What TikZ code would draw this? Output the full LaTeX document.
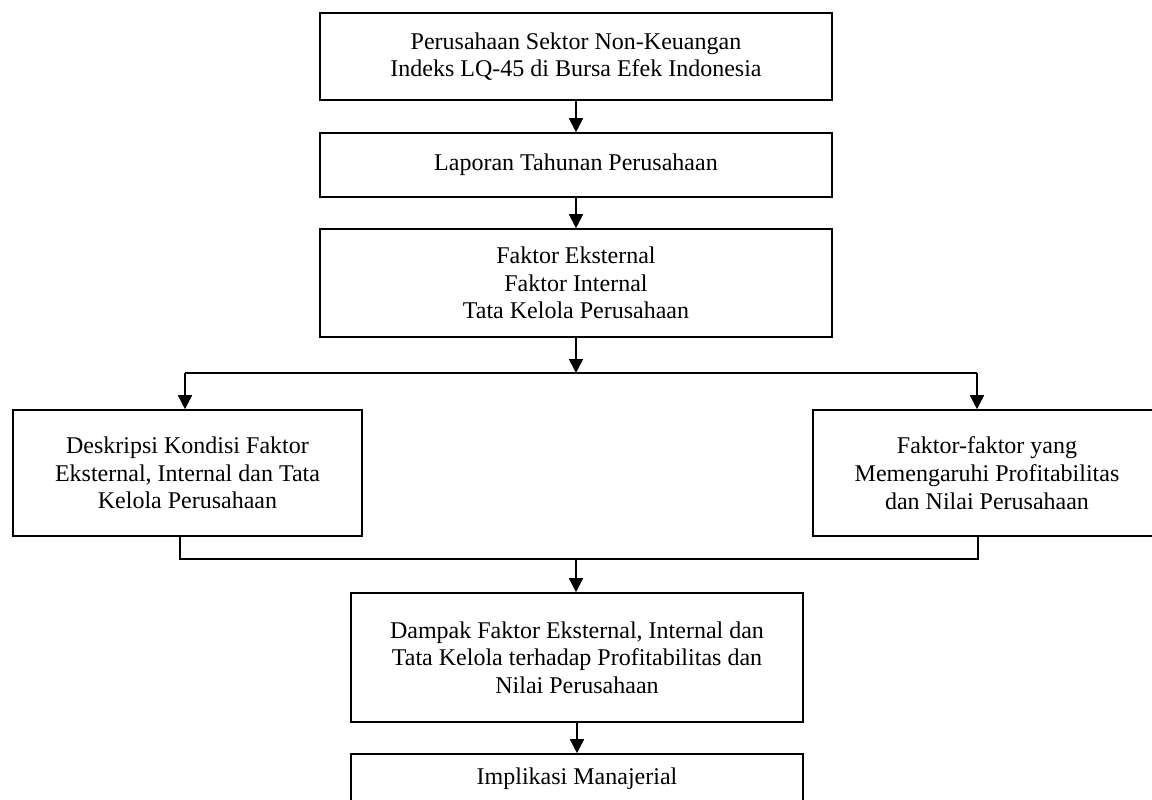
\documentclass[tikz,border=0pt]{standalone}
\usepackage{fontspec}
\setmainfont{Liberation Serif}
\usetikzlibrary{arrows.meta}
\begin{document}
\begin{tikzpicture}[x=1pt,y=-1pt,
  box/.style={draw=black, line width=1.6pt, align=center, inner sep=2pt,
    font=\fontsize{24}{27.7}\selectfont, text=black},
  line/.style={draw=black, line width=1.6pt},
  arr/.style={line, -{Triangle[width=14pt,length=14pt]}}]
\useasboundingbox (0,0) rectangle (1152,800);
\clip (0,0) rectangle (1152,800);
\fill[white] (0,0) rectangle (1152,800);
\node[box, minimum width=512pt, minimum height=87pt] (b1) at (576,56.5)
  {Perusahaan Sektor Non-Keuangan\\Indeks LQ-45 di Bursa Efek Indonesia};
\node[box, minimum width=512pt, minimum height=64pt] (b2) at (576,165)
  {Laporan Tahunan Perusahaan};
\node[box, minimum width=512pt, minimum height=108pt] (b3) at (576,283)
  {Faktor Eksternal\\Faktor Internal\\Tata Kelola Perusahaan};
\node[box, minimum width=349pt, minimum height=126pt] (b4) at (187.5,473)
  {Deskripsi Kondisi Faktor\\Eksternal, Internal dan Tata\\Kelola Perusahaan};
\node[box, minimum width=348pt, minimum height=126pt] (b5) at (987,473)
  {Faktor-faktor yang\\Memengaruhi Profitabilitas\\dan Nilai Perusahaan};
\node[box, minimum width=452pt, minimum height=129pt] (b6) at (577,657.5)
  {Dampak Faktor Eksternal, Internal dan\\Tata Kelola terhadap Profitabilitas dan\\Nilai Perusahaan};
\node[box, minimum width=452pt, minimum height=50pt] (b7) at (577,779)
  {Implikasi Manajerial};
% connectors
\coordinate (s) at (576,373);
\coordinate (sL) at (185,373);
\coordinate (sR) at (977,373);
\coordinate (jL) at (180,559);
\coordinate (jR) at (978,559);
\coordinate (j) at (576,559);
\draw[arr] (b1.south) -- (b2.north);
\draw[arr] (b2.south) -- (b3.north);
\draw[arr] (b3.south) -- (s);
\draw[line] (sL) -- (sR);
\draw[arr] (sL) -- (sL |- b4.north);
\draw[arr] (sR) -- (sR |- b5.north);
\draw[line] (jL |- b4.south) -- (jL) -- (jR) -- (jR |- b5.south);
\draw[arr] (j) -- (j |- b6.north);
\draw[arr] (b6.south) -- (b7.north);
\end{tikzpicture}
\end{document}
